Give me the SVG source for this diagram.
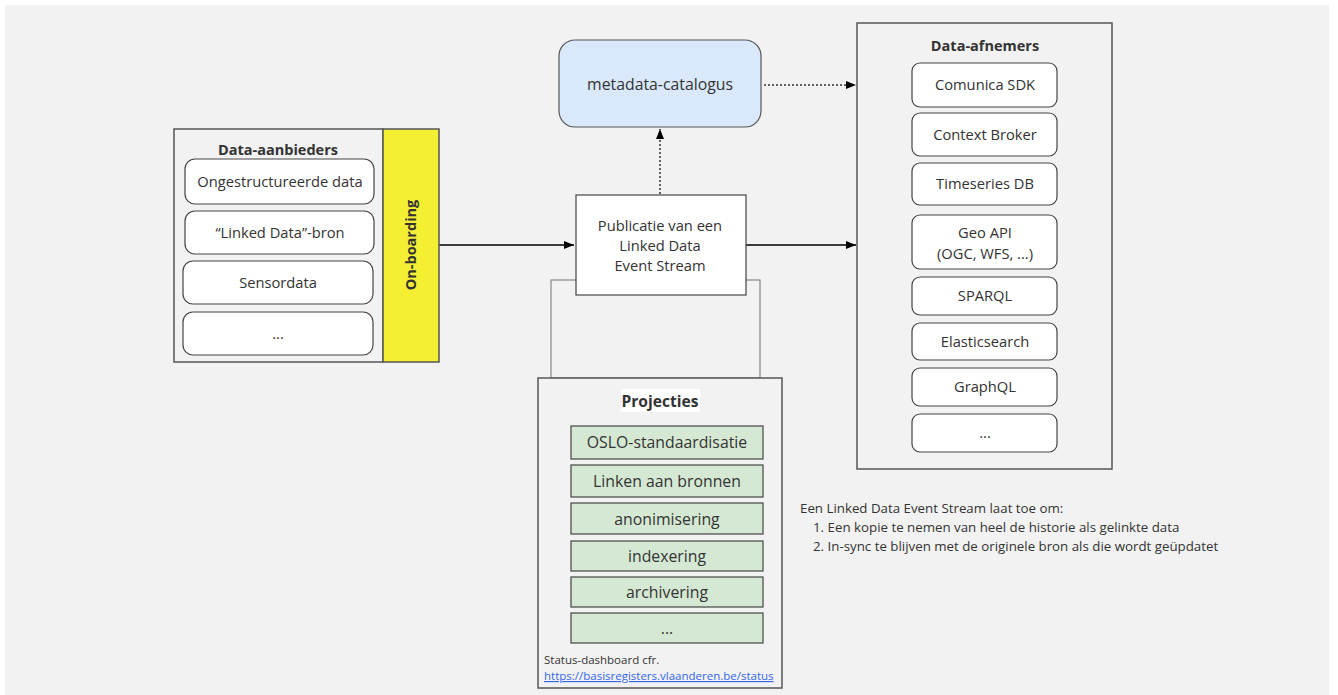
<svg xmlns="http://www.w3.org/2000/svg" width="1338" height="695" viewBox="0 0 1338 695">
<style>
text{font-family:"Open Sans","Noto Sans","Liberation Sans",sans-serif;fill:#333;}
.c{text-anchor:middle;}
.t{font-size:14.7px;}
.b{font-weight:bold;font-size:14.5px;}
.box{fill:#fff;stroke:#444;stroke-width:1.2;}
.cont{fill:#f2f2f2;stroke:#555;stroke-width:1.5;}
.grn{fill:#d5e8d4;stroke:#444;stroke-width:1.2;}
.p{font-size:15.8px;}
.n{font-size:13.3px;}
.s{font-size:11.5px;}
.ln{stroke:#000;stroke-width:1.6;fill:none;}
.dot{stroke:#333;stroke-width:1.5;fill:none;stroke-dasharray:2 2;}
</style>
<defs>
<marker id="ah" viewBox="0 0 10 10" refX="10" refY="5" markerWidth="10" markerHeight="10" markerUnits="userSpaceOnUse" orient="auto">
<path d="M0,1 L10,5 L0,9 Z" fill="#000"/>
</marker>
</defs>
<rect x="0" y="0" width="1338" height="695" fill="#fff"/>
<rect x="5" y="5" width="1324" height="690" fill="#f2f2f2"/>

<rect x="551" y="280" width="209" height="98" fill="none" stroke="#888" stroke-width="1.2"/>

<g id="connectors">
<line class="ln" x1="439" y1="245" x2="574" y2="245" marker-end="url(#ah)"/>
<line class="ln" x1="746" y1="245" x2="856" y2="245" marker-end="url(#ah)"/>
<line class="dot" x1="660" y1="194" x2="660" y2="129" marker-end="url(#ah)"/>
<line class="dot" x1="764" y1="85" x2="856" y2="85" marker-end="url(#ah)"/>
</g>

<g id="data-aanbieders">
<rect class="cont" x="174" y="129" width="209" height="233"/>
<text class="b c" x="278" y="155">Data-aanbieders</text>
<rect class="box" x="185" y="159" width="189" height="45" rx="10"/>
<text class="t c" x="280" y="187">Ongestructureerde data</text>
<rect class="box" x="185" y="211" width="189" height="43" rx="10"/>
<text class="t c" x="280" y="238">“Linked Data”-bron</text>
<rect class="box" x="183" y="261" width="190" height="43" rx="10"/>
<text class="t c" x="278" y="288">Sensordata</text>
<rect class="box" x="183" y="312" width="190" height="43" rx="10"/>
<text class="t c" x="278" y="339">...</text>
</g>

<g id="on-boarding">
<rect x="383" y="129" width="56" height="233" fill="#f5ef33" stroke="#555" stroke-width="1.5"/>
<text class="b c" transform="translate(416,245) rotate(-90)">On-boarding</text>
</g>

<g id="publicatie">
<rect class="box" x="576" y="195" width="170" height="100"/>
<text class="t c" x="660" y="231">Publicatie van een</text>
<text class="t c" x="660" y="251">Linked Data</text>
<text class="t c" x="660" y="271">Event Stream</text>
</g>

<g id="metadata-catalogus">
<rect x="559" y="40" width="202" height="87" rx="16" fill="#dae8fc" stroke="#555" stroke-width="1.2"/>
<text class="p c" x="660" y="90">metadata-catalogus</text>
</g>

<g id="data-afnemers">
<rect class="cont" x="857" y="23" width="255" height="446"/>
<text class="b c" x="985" y="51">Data-afnemers</text>
<rect class="box" x="912" y="63" width="145" height="44" rx="8"/>
<text class="t c" x="985" y="90">Comunica SDK</text>
<rect class="box" x="912" y="113" width="145" height="43" rx="8"/>
<text class="t c" x="985" y="140">Context Broker</text>
<rect class="box" x="912" y="163" width="145" height="42" rx="8"/>
<text class="t c" x="985" y="189">Timeseries DB</text>
<rect class="box" x="912" y="215" width="145" height="54" rx="8"/>
<text class="t c" x="985" y="238">Geo API</text>
<text class="t c" x="985" y="259">(OGC, WFS, ...)</text>
<rect class="box" x="912" y="277" width="145" height="38" rx="8"/>
<text class="t c" x="985" y="301">SPARQL</text>
<rect class="box" x="912" y="323" width="145" height="37" rx="8"/>
<text class="t c" x="985" y="347">Elasticsearch</text>
<rect class="box" x="912" y="368" width="145" height="38" rx="8"/>
<text class="t c" x="985" y="392">GraphQL</text>
<rect class="box" x="912" y="414" width="145" height="38" rx="8"/>
<text class="t c" x="985" y="438">...</text>
</g>

<g id="projecties">
<rect class="cont" x="538" y="378" width="244" height="310"/>
<rect x="621" y="389" width="79" height="23" fill="#fff"/>
<text class="b c" x="660" y="407" style="font-size:15.6px">Projecties</text>
<rect class="grn" x="571" y="426" width="192" height="33"/>
<text class="p c" x="667" y="448">OSLO-standaardisatie</text>
<rect class="grn" x="571" y="465" width="192" height="32"/>
<text class="p c" x="667" y="487">Linken aan bronnen</text>
<rect class="grn" x="571" y="503" width="192" height="31"/>
<text class="p c" x="667" y="525">anonimisering</text>
<rect class="grn" x="571" y="541" width="192" height="30"/>
<text class="p c" x="667" y="562">indexering</text>
<rect class="grn" x="571" y="577" width="192" height="30"/>
<text class="p c" x="667" y="598">archivering</text>
<rect class="grn" x="571" y="613" width="192" height="30"/>
<text class="p c" x="667" y="634">...</text>
<text class="s" x="544" y="664">Status-dashboard cfr.</text>
<text class="s" x="544" y="680" style="fill:#3366ee;text-decoration:underline">https://basisregisters.vlaanderen.be/status</text>
</g>

<g id="note">
<text class="n" x="800" y="513">Een Linked Data Event Stream laat toe om:</text>
<text class="n" x="813" y="532">1. Een kopie te nemen van heel de historie als gelinkte data</text>
<text class="n" x="813" y="551">2. In-sync te blijven met de originele bron als die wordt geüpdatet</text>
</g>
</svg>
